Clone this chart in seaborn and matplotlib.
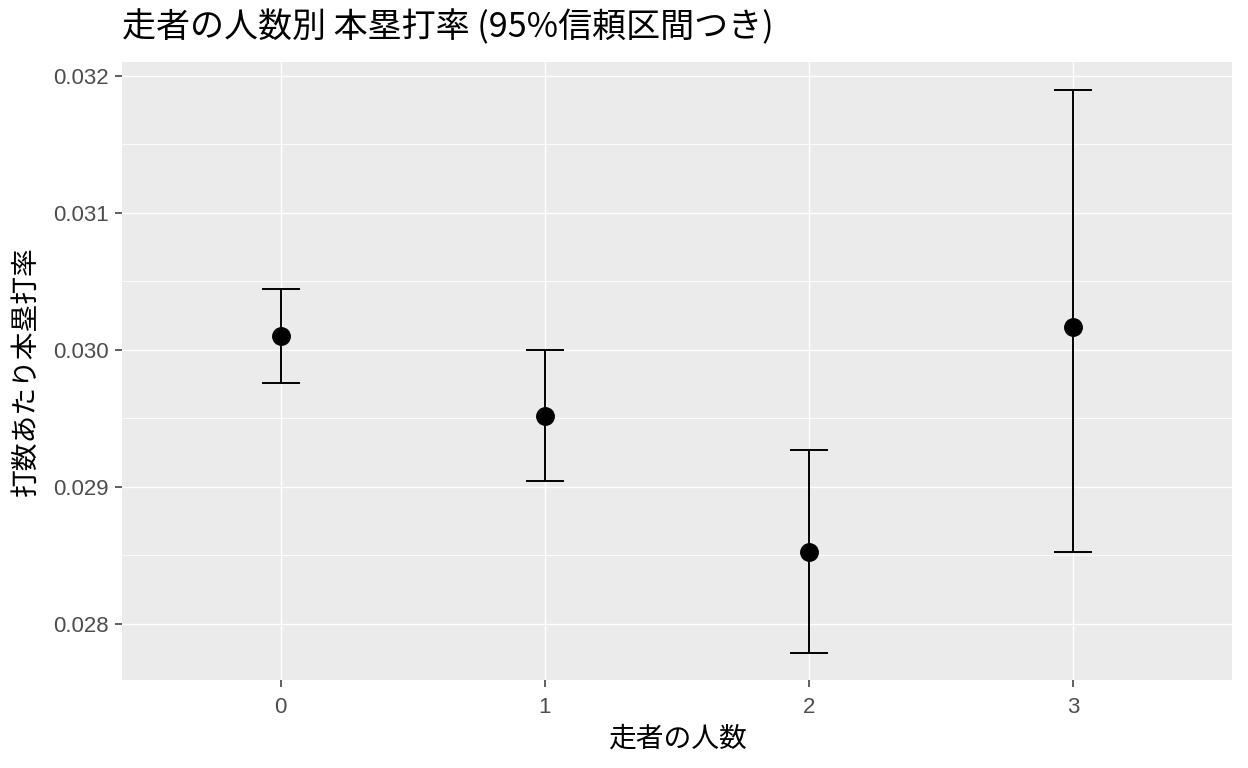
import matplotlib
matplotlib.use("Agg")
import matplotlib.pyplot as plt
import seaborn as sns
import numpy as np
import pandas as pd
from matplotlib.ticker import MultipleLocator, FixedLocator, FormatStrFormatter

runners = ["0", "1", "2", "3"]
hr_rate = [0.030102, 0.029518, 0.028526, 0.030168]
ci_low = [0.029759, 0.029044, 0.027788, 0.028526]
ci_high = [0.030445, 0.030000, 0.029270, 0.031898]

title = "走者の人数別 本塁打率 (95%信頼区間つき)"
xlabel = "走者の人数"
ylabel = "打数あたり本塁打率"

sns.set_theme(style="darkgrid")
plt.rcParams['font.family'] = ['Noto Sans CJK JP', 'DejaVu Sans']

df = pd.DataFrame({"runners": runners, "rate": hr_rate, "lo": ci_low, "hi": ci_high})
df["pos"] = np.arange(len(df))

W, H = 1248, 768
L, R, T, B = 122, 1232, 62, 680
fig = plt.figure(figsize=(W / 100, H / 100), dpi=100)
ax = fig.add_axes([L / W, 1 - B / H, (R - L) / W, (B - T) / H])
ax.set_facecolor("#EBEBEB")

ax.errorbar(df["pos"], df["rate"],
            yerr=[df["rate"] - df["lo"], df["hi"] - df["rate"]],
            fmt="none", ecolor="black", elinewidth=1.4, capsize=14, capthick=1.4, zorder=3)
sns.scatterplot(data=df, x="pos", y="rate", ax=ax, color="black", s=185,
                edgecolor="black", linewidth=0, zorder=4, legend=False)

ax.set_xlim(-0.6, 3.6)
ax.set_ylim(0.027591, 0.032102)
ax.xaxis.set_major_locator(FixedLocator(df["pos"].tolist()))
ax.set_xticklabels(runners)
ax.yaxis.set_major_locator(MultipleLocator(0.001))
ax.yaxis.set_minor_locator(MultipleLocator(0.0005))
ax.yaxis.set_major_formatter(FormatStrFormatter("%.3f"))

ax.grid(True, which="major", color="white", linewidth=1.0)
ax.grid(True, which="minor", axis="y", color="white", linewidth=0.6)
for s in ax.spines.values():
    s.set_visible(False)

ax.tick_params(axis="both", which="major", length=5.2, width=1.1, color="#333333",
               labelcolor="#4D4D4D", labelsize=16, pad=4.5, direction="out",
               bottom=True, left=True)
ax.tick_params(axis="x", which="major", pad=7)
ax.tick_params(axis="both", which="minor", length=0)
for lab in ax.get_xticklabels() + ax.get_yticklabels():
    lab.set_family(['Liberation Sans', 'DejaVu Sans'])
    lab.set_fontsize(16)

ax.set_xlabel(xlabel, fontsize=20, color="black", va="center", ha="center")
ax.xaxis.set_label_coords(0.5, (B - 739) / (B - T))
ax.set_ylabel(ylabel, fontsize=20, color="black", va="center", ha="center")
ax.yaxis.set_label_coords((26 - L) / (R - L), 0.5 + ((B - T) / 2 - (371 - T)) / (B - T))

ax.set_title(title, fontsize=24.5, loc="left", color="black",
             y=1 + (T - 36) / (B - T), va="center")

fig.savefig("out.png", dpi=100)
